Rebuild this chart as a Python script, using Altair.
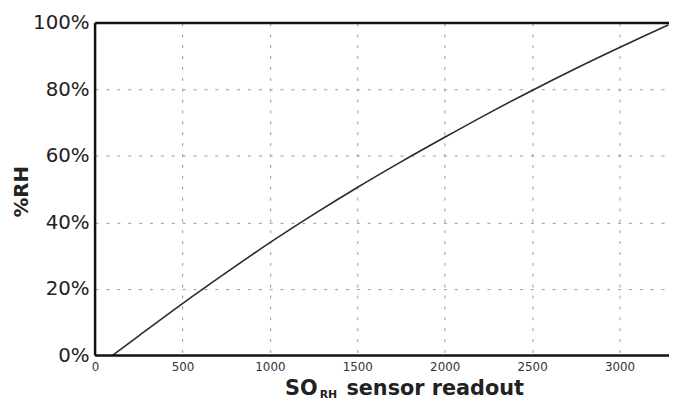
import altair as alt
import pandas as pd

# Data
so_readout = [100, 250, 500, 750, 1000, 1250, 1500, 1750, 2000, 2250, 2500, 2750, 3000, 3150, 3280]
rh_percent = [0, 5.9, 15.6, 24.9, 33.9, 42.4, 50.5, 58.2, 65.6, 72.8, 79.7, 86.3, 92.6, 96.3, 99.4]
x_ticks = [0, 500, 1000, 1500, 2000, 2500, 3000]
y_ticks = [0, 20, 40, 60, 80, 100]

df = pd.DataFrame({"so": so_readout, "rh": rh_percent})

W, H = 580, 336
FONT = "DejaVu Sans"
FRAME = "#111"

line = alt.Chart(df).mark_line(color="#2a2a2a", strokeWidth=1.6, interpolate="monotone").encode(
    x=alt.X("so:Q", scale=alt.Scale(domain=[0, 3283], nice=False, zero=False),
            axis=alt.Axis(values=x_ticks, format="d", title=None, labelFont=FONT, labelFontSize=12,
                          labelColor="#333", labelPadding=6, ticks=False, domain=False,
                          grid=True, gridDash=[3, 8], gridColor="#999", gridWidth=1,
                          labelFlush=False)),
    y=alt.Y("rh:Q", scale=alt.Scale(domain=[0, 100], nice=False),
            axis=alt.Axis(values=y_ticks, labelExpr="datum.value + '%'", title="%RH",
                          labelFont=FONT, labelFontSize=20, labelColor="#222", labelPadding=6,
                          ticks=False, domain=False, grid=True, gridDash=[3, 8],
                          gridColor="#999", gridWidth=1,
                          titleFont=FONT, titleFontSize=20, titleFontWeight="bold",
                          titleColor="#222", titleAngle=270, titleX=-74, titleY=170,
                          titleAlign="center", titleBaseline="middle")),
)

one = df.head(1)
frame_left = alt.Chart(one).mark_rule(color=FRAME, strokeWidth=2.5).encode(
    x=alt.value(0), y=alt.value(0), y2=alt.value(H))
frame_top = alt.Chart(one).mark_rule(color=FRAME, strokeWidth=2.5).encode(
    x=alt.value(0), x2=alt.value(W + 2), y=alt.value(0))
frame_bottom = alt.Chart(one).mark_rule(color=FRAME, strokeWidth=2.5).encode(
    x=alt.value(0), x2=alt.value(W + 2), y=alt.value(H))

title_so = alt.Chart(one).mark_text(
    text="SO", font=FONT, fontSize=21, fontWeight="bold", color="#222",
    align="left", baseline="alphabetic"
).encode(x=alt.value(192), y=alt.value(376))

title_rh = alt.Chart(one).mark_text(
    text="RH", font=FONT, fontSize=11, fontWeight="bold", color="#222",
    align="left", baseline="alphabetic"
).encode(x=alt.value(227), y=alt.value(379))

title_rest = alt.Chart(one).mark_text(
    text="sensor readout", font=FONT, fontSize=21, fontWeight="bold", color="#222",
    align="left", baseline="alphabetic"
).encode(x=alt.value(254), y=alt.value(376))

chart = alt.layer(line, frame_left, frame_top, frame_bottom,
                  title_so, title_rh, title_rest).properties(
    width=W, height=H,
    autosize=alt.AutoSizeParams(type="none"),
    padding={"left": 88, "top": 13, "right": 0, "bottom": 47},
    background="white",
).configure_view(stroke=None)

chart.save("out.html", embed_options={"renderer": "svg", "actions": False})
